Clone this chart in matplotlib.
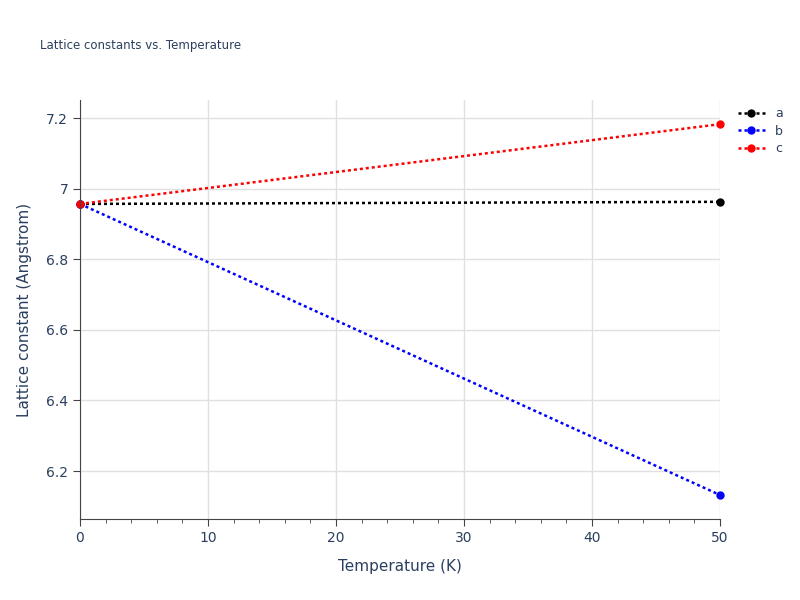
import matplotlib.pyplot as plt
from matplotlib.ticker import MultipleLocator

temperature = [0, 50]
lattice_a = [6.957, 6.963]
lattice_b = [6.957, 6.132]
lattice_c = [6.957, 7.183]

series = [("a", lattice_a, "black"), ("b", lattice_b, "blue"), ("c", lattice_c, "red")]

fig = plt.figure(figsize=(8, 6), dpi=100)
ax = fig.add_axes([0.1, 0.135, 0.8, 0.698])

for name, vals, col in series:
    ax.plot(temperature, vals, linestyle=(0, (1.2, 1.2)), linewidth=1.8,
            color=col, marker="o", markersize=5, label=name, clip_on=False)

ax.set_xlim(0, 50)
ax.set_ylim(6.064, 7.251)
ax.set_xticks([0, 10, 20, 30, 40, 50])
ax.xaxis.set_minor_locator(MultipleLocator(2))
ax.set_yticks([6.2, 6.4, 6.6, 6.8, 7.0, 7.2])
ax.set_yticklabels(["6.2", "6.4", "6.6", "6.8", "7", "7.2"])
ax.grid(True, color="#e0e0e0", linewidth=1)
ax.set_axisbelow(True)
for s in ["top", "right"]:
    ax.spines[s].set_visible(False)
for s in ["left", "bottom"]:
    ax.spines[s].set_color("#444444")
ax.tick_params(axis="both", which="major", colors="#444444", labelcolor="#2a3f5f",
               labelsize=10, length=5)
ax.tick_params(axis="x", which="minor", colors="#444444", length=3)

ax.set_xlabel("Temperature (K)", fontsize=11, color="#2a3f5f", labelpad=10)
ax.set_ylabel("Lattice constant (Angstrom)", fontsize=11, color="#2a3f5f", labelpad=10)
fig.text(0.05, 0.918, "Lattice constants vs. Temperature", fontsize=8.5, color="#2a3f5f")

ax.legend(loc="upper left", bbox_to_anchor=(1.01, 1.01), frameon=False,
          fontsize=9, handlelength=2.2, labelspacing=0.35, labelcolor="#2a3f5f")

fig.savefig("out.png", dpi=100)
